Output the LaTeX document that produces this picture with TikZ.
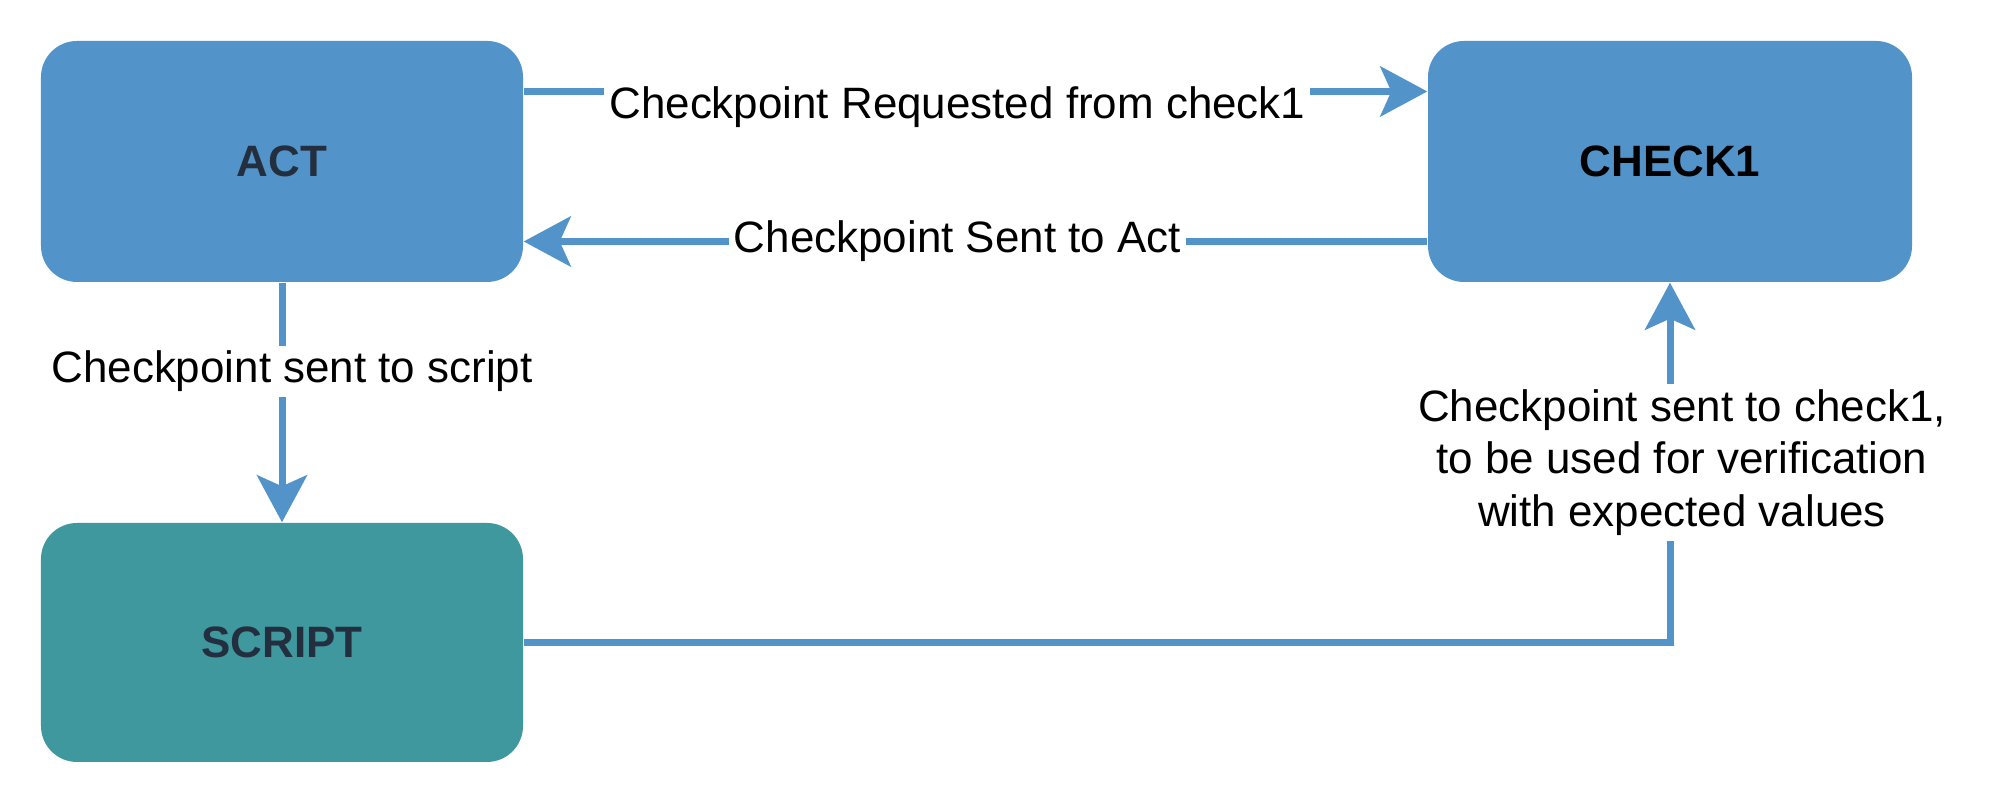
\documentclass[tikz,border=0pt]{standalone}
\usepackage{fontspec}
\setmainfont{Liberation Sans}
\usetikzlibrary{positioning,calc,arrows.meta}
\definecolor{boxblue}{HTML}{5294C9}
\definecolor{boxteal}{HTML}{3F989E}
\definecolor{wire}{HTML}{5294CA}
\definecolor{squid}{HTML}{232F3E}

\begin{document}
\begin{tikzpicture}[x=1mm,y=1mm,
  stage/.style={rounded corners=3.6mm,minimum width=48.2mm,minimum height=24.1mm,
    inner sep=0pt,font=\bfseries\fontsize{12.5}{15}\selectfont},
  flow/.style={wire,line width=0.7mm,-{Stealth[length=4.7mm,width=5mm,inset=1.1mm]}},
  tag/.style={fill=white,inner sep=0.5mm,text=black,font=\fontsize{12.5}{15}\selectfont}]

  % White sheet, fixes the frame
  \useasboundingbox[fill=white] (0,0) rectangle (199.2,80.4);

  % ---------------------------------------------------------------- STAGES
  \node[stage,fill=boxblue,text=squid] (act) at (28.2,64.25) {ACT};
  \node[stage,fill=boxblue,text=black,minimum width=48.4mm] (check) at (167.0,64.25) {CHECK1};
  \node[stage,fill=boxteal,text=squid,minimum height=23.9mm] (script) at (28.2,16.15) {SCRIPT};

  % ---------------------------------------------------------------- FLOWS
  \draw[flow] ([yshift=7mm]act.east) --
    node[tag,pos=0.48,yshift=-1.6mm] {Checkpoint Requested from check1}
    ([yshift=7mm]check.west);
  \draw[flow] ([yshift=-8mm]check.west) --
    node[tag,pos=0.52] {Checkpoint Sent to Act}
    ([yshift=-8mm]act.east);
  \draw[flow] (act) --
    node[tag,pos=0.37,xshift=1mm] {Checkpoint sent to script}
    (script);
  \draw[flow] (script.east) -|
    node[tag,pos=0.75,xshift=1.2mm,align=center]
      {Checkpoint sent to check1,\\to be used for verification\\with expected values}
    (check.south);

\end{tikzpicture}
\end{document}
